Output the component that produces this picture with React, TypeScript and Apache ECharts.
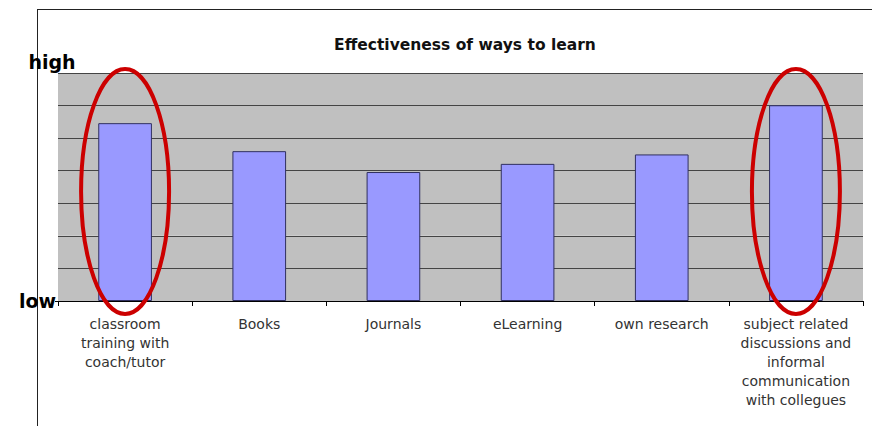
import React, { useEffect, useRef } from "react";
import * as echarts from "echarts";

const title = "Effectiveness of ways to learn";
const categories = [
  "classroom\ntraining with\ncoach/tutor",
  "Books",
  "Journals",
  "eLearning",
  "own research",
  "subject related\ndiscussions and\ninformal\ncommunication\nwith collegues",
];
const values = [5.46, 4.6, 3.96, 4.21, 4.5, 6.01];
const highlighted = [0, 5];
const yLabels = { low: "low", high: "high" };

const FONT = "DejaVu Sans, Verdana, sans-serif";

export default function App() {
  const ref = useRef<HTMLDivElement>(null);
  useEffect(() => {
    if (!ref.current) return;
    const chart = echarts.init(ref.current, null, { renderer: "svg" });
    chart.setOption({
      animation: false,
      backgroundColor: "#ffffff",
      title: {
        text: title,
        left: 460,
        top: 32,
        textAlign: "center",
        textStyle: {
          fontFamily: FONT,
          fontSize: 15.5,
          fontWeight: "bold",
          color: "#111",
        },
      },
      grid: { left: 58, right: 10, top: 73, bottom: 125 },
      xAxis: {
        type: "category",
        data: categories,
        axisLine: { show: true, lineStyle: { color: "#000", width: 1 } },
        axisTick: { show: true, length: 5, lineStyle: { color: "#000" } },
        axisLabel: {
          interval: 0,
          margin: 13,
          color: "#333",
          fontFamily: FONT,
          fontSize: 14,
          lineHeight: 19,
          align: "center",
        },
      },
      yAxis: {
        type: "value",
        min: 0,
        max: 7,
        interval: 1,
        axisLine: { show: false },
        axisTick: { show: false },
        axisLabel: { show: false },
        splitLine: { show: true, lineStyle: { color: "#444", width: 1 } },
        splitArea: { show: true, areaStyle: { color: ["#c0c0c0", "#c0c0c0"] } },
      },
      series: [
        {
          type: "bar",
          data: values,
          barWidth: "40%",
          itemStyle: { color: "#9999ff", borderColor: "#303060", borderWidth: 1 },
        },
      ],
    });

    const ellipses = highlighted.map((i) => {
      const c = chart.convertToPixel({ gridIndex: 0 }, [i, 0]) as number[];
      const topPt = chart.convertToPixel({ gridIndex: 0 }, [i, 7]) as number[];
      const bottom = c[1] + 13;
      const top = topPt[1] - 4;
      return {
        type: "ellipse",
        shape: { cx: c[0], cy: (top + bottom) / 2, rx: 44, ry: (bottom - top) / 2 },
        style: { fill: "none", stroke: "#cc0000", lineWidth: 4 },
        z: 100,
      };
    });
    const base = chart.convertToPixel({ gridIndex: 0 }, [0, 0]) as number[];
    const topY = (chart.convertToPixel({ gridIndex: 0 }, [0, 7]) as number[])[1];

    chart.setOption({
      graphic: [
        { type: "line", shape: { x1: 37, y1: 9.5, x2: 872, y2: 9.5 }, style: { stroke: "#222", lineWidth: 1 } },
        { type: "line", shape: { x1: 37.5, y1: 9, x2: 37.5, y2: 426 }, style: { stroke: "#222", lineWidth: 1 } },
        { type: "line", shape: { x1: 55, y1: base[1] + 0.5, x2: 58, y2: base[1] + 0.5 }, style: { stroke: "#000", lineWidth: 1 } },
        {
          type: "text",
          x: 52,
          y: topY - 11,
          style: {
            text: yLabels.high,
            align: "center",
            verticalAlign: "middle",
            font: "bold 19px " + FONT,
            fill: "#000",
          },
        },
        {
          type: "text",
          x: 56,
          y: base[1],
          style: {
            text: yLabels.low,
            align: "right",
            verticalAlign: "middle",
            font: "bold 19px " + FONT,
            fill: "#000",
          },
        },
        ...ellipses,
      ],
    });
    return () => chart.dispose();
  }, []);
  return (
    <div
      ref={ref}
      style={{ position: "fixed", left: 0, top: 0, width: 873, height: 426 }}
    />
  );
}
